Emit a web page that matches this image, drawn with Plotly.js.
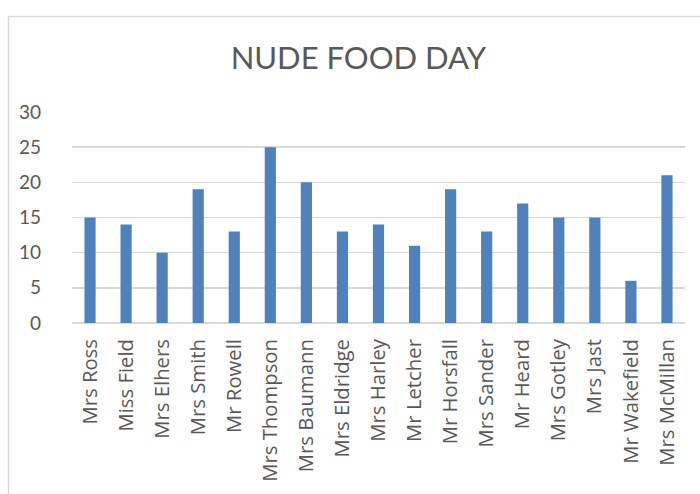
<!DOCTYPE html>
<html><head><meta charset="utf-8">
<script src="https://cdn.plot.ly/plotly-3.0.1.min.js"></script>
<style>html,body{margin:0;padding:0;background:#fff}#c{width:700px;height:494px}</style>
</head><body><div id="c"></div>
<script>
const teachers = ["Mrs Ross","Miss Field","Mrs Elhers","Mrs Smith","Mr Rowell","Mrs Thompson","Mrs Baumann","Mrs Eldridge","Mrs Harley","Mr Letcher","Mr Horsfall","Mrs Sander","Mr Heard","Mrs Gotley","Mrs Jast","Mr Wakefield","Mrs McMillan"];
const counts = [15,14,10,19,13,25,20,13,14,11,19,13,17,15,15,6,21];
const yTicks = [0,5,10,15,20,25,30];

const ml = 72, mr = 15, mt = 112, mb = 171;
const pw = 700 - ml - mr, ph = 494 - mt - mb;
const px = v => (v - ml) / pw;
const py = v => (494 - mb - v) / ph;

Plotly.newPlot('c', [{
  type: 'bar', x: teachers, y: counts,
  marker: {color: '#4F81BD'}, hoverinfo: 'x+y'
}], {
  width: 700, height: 494,
  margin: {l: ml, r: mr, t: mt, b: mb, pad: 0},
  paper_bgcolor: '#fff', plot_bgcolor: '#fff',
  bargap: 0.69,
  showlegend: false,
  title: {text: 'NUDE FOOD DAY', x: 0.512, xanchor: 'center', y: 0.883, yanchor: 'middle',
    font: {family: 'Lato, "Open Sans", sans-serif', size: 31, color: '#595959'}},
  xaxis: {tickangle: -90, tickfont: {family: '"Open Sans", sans-serif', size: 20.3, color: '#595959'},
    showgrid: false, showline: false, ticks: '', ticklen: 0, ticklabelstandoff: 11, automargin: false},
  yaxis: {range: [0, 30], tickvals: yTicks, ticktext: yTicks.map(String),
    tickfont: {family: 'Lato, "Open Sans", sans-serif', size: 19, color: '#595959'},
    showgrid: true, gridcolor: '#d9d9d9', gridwidth: 1.5, zeroline: true, zerolinecolor: '#d9d9d9', zerolinewidth: 1.5,
    ticks: '', ticklabelstandoff: 30, automargin: false, fixedrange: true},
  shapes: [
    {type: 'line', xref: 'paper', yref: 'paper', x0: px(8.5), x1: px(8.5), y0: py(16), y1: py(494), line: {color: '#d9d9d9', width: 1.5}},
    {type: 'line', xref: 'paper', yref: 'paper', x0: px(8), x1: px(700), y0: py(16.5), y1: py(16.5), line: {color: '#d9d9d9', width: 1.5}}
  ]
}, {displayModeBar: false, staticPlot: true});
</script></body></html>
